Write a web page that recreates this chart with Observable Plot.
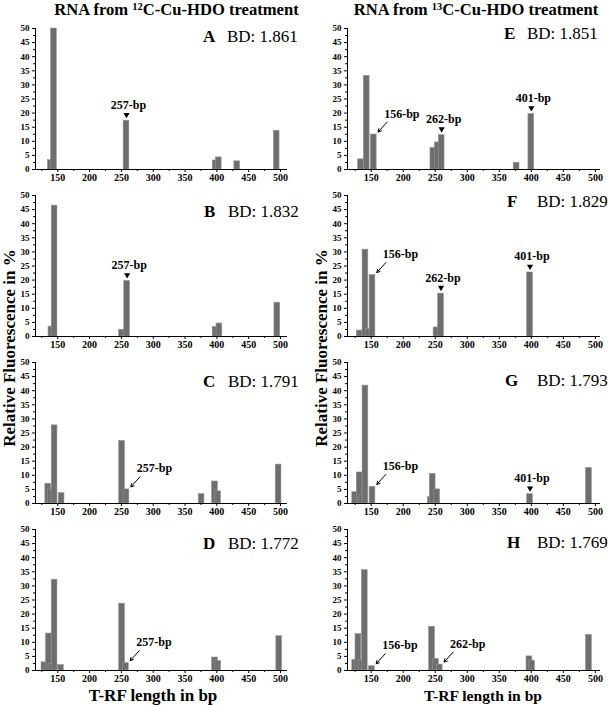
<!DOCTYPE html>
<html><head><meta charset="utf-8">
<script src="https://cdn.jsdelivr.net/npm/d3@7"></script>
<script src="https://cdn.jsdelivr.net/npm/@observablehq/plot@0.6"></script>
<style>
html,body{margin:0;padding:0;background:#fff;}
#chart{position:relative;width:608px;height:705px;font-family:"Liberation Serif","Times New Roman",serif;overflow:hidden;background:#fff;}
#chart > svg{position:absolute;}
</style></head><body><div id="chart"></div>
<script>
// ---------------- data ----------------
const panelLetters = ["A","B","C","D","E","F","G","H"];
const bdValues = ["1.861","1.832","1.791","1.772","1.851","1.829","1.793","1.769"];
const isotopes = ["12","13"];
const xTicks = [150,200,250,300,350,400,450,500];
const xMinorTicks = [125,175,225,275,325,375,425,475];
const yTicks = [0,5,10,15,20,25,30,35,40,45,50];
const yMinorTicks = [2.5,7.5,12.5,17.5,22.5,27.5,32.5,37.5,42.5,47.5];

// T-RF length (bp) and relative fluorescence (%) per panel
const bpA = [139,144,258,398,403,432,494];
const pctA = [3.3,50,17.3,3.2,4.3,2.9,13.7];
const bpB = [140,145,251,259,398,404,495];
const pctB = [3.5,46.4,2.4,19.7,3.4,4.6,12.0];
const bpC = [135,139,145,156,251,258,376,397,402,497];
const pctC = [7.0,4.9,27.7,3.7,22.2,5.0,3.3,7.8,4.3,13.8];
const bpD = [129,136,140,145,155,251,257,397,402,498];
const pctD = [2.9,13.1,2.3,32.2,1.9,23.7,2.6,4.6,3.4,12.2];
const bpE = [134,143,154,247,254,260,377,400];
const pctE = [3.6,33.2,12.4,7.7,9.6,12.2,2.4,19.7];
const bpF = [132,141,146,152,252,259,398];
const pctF = [2.1,30.8,2.6,21.8,3.2,15.2,22.7];
const bpG = [125,132,136,141,152,243,246,253,398,490];
const pctG = [4.0,11.0,2.9,41.8,5.9,2.3,10.5,5.0,3.3,12.6];
const bpH = [125,130,135,140,151,245,251,257,397,401,490];
const pctH = [3.8,12.9,3.8,35.6,1.5,15.5,4.1,2.1,5.0,3.5,12.6];

// annotations: panel, label, bar (bp) pointed at, marker kind
const annPanel = ["A","B","C","D","E","E","E","F","F","F","G","G","H","H"];
const annText  = ["257-bp","257-bp","257-bp","257-bp","156-bp","262-bp","401-bp","156-bp","262-bp","401-bp","156-bp","401-bp","156-bp","262-bp"];
const annBar   = [258,259,258,257,154,260,400,152,259,398,152,398,151,257];
const annKind  = ["tri","tri","arrow","arrow","arrow","tri","tri","arrow","tri","tri","arrow","tri","arrow","arrow"];

// ---------------- layout ----------------
const panelBp = [bpA,bpB,bpC,bpD,bpE,bpF,bpG,bpH];
const panelPct = [pctA,pctB,pctC,pctD,pctE,pctF,pctG,pctH];
const colLeft = [0,300], colWidth = [300,308], marginL = [35,47], marginR = [13,8];
const xDomain = [[115,511],[113,508]];
const rowTop = [20,187,354,521];
const MT = 8, PH = 141, MB = 18, H = MT + PH + MB;
const BW = 9; // bar width in bp
const letterX = [203,204,203,203,504,507,505,507];
const bdX = [227,228,228,228,527,537,537,537];
const labelBase = [42,217,387,549,39,207,386,548];

const chart = document.getElementById("chart");

function drawPanel(p) {
  const col = p < 4 ? 0 : 1, row = p % 4;
  const [xmin, xmax] = xDomain[col];
  const width = colWidth[col];
  const kx = (width - marginL[col] - marginR[col]) / (xmax - xmin);
  const ky = PH / 50;
  const bars = panelBp[p].map((bp, i) => ({bp, pct: panelPct[p][i]}));
  const anns = [];
  annPanel.forEach((q, i) => {
    if (q !== panelLetters[p]) return;
    const bar = bars.find(b => b.bp === annBar[i]);
    anns.push({text: annText[i], kind: annKind[i], bp: bar.bp, pct: bar.pct});
  });
  const tri = anns.filter(a => a.kind === "tri");
  const arr = anns.filter(a => a.kind === "arrow").map(a => {
    const tx = a.bp + BW / 2 + 1.5 / kx, ty = a.pct + 2.5 / ky;
    return {...a, tx, ty, sx: tx + 9 / kx, sy: ty + 10 / ky};
  });
  const svg = Plot.plot({
    width, height: H,
    marginLeft: marginL[col], marginRight: marginR[col], marginTop: MT, marginBottom: MB,
    style: {fontFamily: "Liberation Serif, serif", background: "transparent", overflow: "visible"},
    x: {domain: [xmin, xmax], label: null},
    y: {domain: [0, 50], label: null},
    marks: [
      Plot.rect(bars, {x1: d => d.bp - BW / 2, x2: d => d.bp + BW / 2, y1: 0, y2: "pct",
        fill: "#6e6e6e", stroke: "#939393", strokeWidth: 0.6}),
      Plot.ruleY([0], {stroke: "#000", strokeWidth: 1}),
      Plot.ruleX([xmin], {y1: 0, y2: 50, stroke: "#000", strokeWidth: 1}),
      Plot.axisY(yTicks, {tickSize: 3, tickPadding: 3, fontSize: 9, fontWeight: "bold", label: null}),
      Plot.axisY(yMinorTicks, {tickSize: 2, tickFormat: () => "", label: null}),
      Plot.axisX(xTicks, {tickSize: 3, tickPadding: 1, fontSize: 10, fontWeight: "bold", label: null, tickFormat: d => String(d)}),
      Plot.axisX(xMinorTicks, {tickSize: 2, tickFormat: () => "", label: null}),
      Plot.dot(tri, {x: "bp", y: "pct", symbol: "triangle", rotate: 180, r: 2.3, fill: "#000", stroke: null, dy: -6}),
      Plot.text(tri, {x: "bp", y: "pct", text: "text", dy: -12, dx: 2, lineAnchor: "bottom",
        fontSize: 12, fontWeight: "bold", fill: "#000"}),
      Plot.arrow(arr, {x1: "sx", y1: "sy", x2: "tx", y2: "ty", stroke: "#000", strokeWidth: 1, headLength: 5}),
      Plot.text(arr, {x: "sx", y: "sy", text: "text", dx: -3, dy: -4.5, textAnchor: "start", lineAnchor: "bottom",
        fontSize: 12, fontWeight: "bold", fill: "#000"})
    ]
  });
  svg.style.left = colLeft[col] + "px";
  svg.style.top = rowTop[row] + "px";
  chart.appendChild(svg);
}

for (let p = 0; p < 8; p++) drawPanel(p);

// overlay with titles and labels
const ov = d3.select(chart).append("svg")
  .attr("width", 608).attr("height", 705)
  .style("left", "0px").style("top", "0px").style("pointer-events", "none")
  .attr("font-family", "Liberation Serif, serif");

const titleX = [176.5, 476];
isotopes.forEach((iso, c) => {
  const t = ov.append("text").attr("x", titleX[c]).attr("y", 15)
    .attr("text-anchor", "middle").attr("font-size", 16.6).attr("font-weight", "bold");
  t.append("tspan").text("RNA from ");
  t.append("tspan").attr("font-size", 10.5).attr("dy", -5).text(iso);
  t.append("tspan").attr("dy", 5).text("C-Cu-HDO treatment");
});

const yTitleX = [15, 327];
yTitleX.forEach(x => {
  ov.append("text").attr("transform", `translate(${x},348) rotate(-90)`)
    .attr("text-anchor", "middle").attr("font-size", 17).attr("font-weight", "bold")
    .text("Relative Fluorescence in %");
});

const xTitle = [[153, 17], [483, 15.6]];
xTitle.forEach(([x, fs]) => {
  ov.append("text").attr("x", x).attr("y", 700.5).attr("text-anchor", "middle")
    .attr("font-size", fs).attr("font-weight", "bold").text("T-RF length in bp");
});

panelLetters.forEach((L, p) => {
  ov.append("text").attr("x", letterX[p]).attr("y", labelBase[p])
    .attr("font-size", 17).attr("font-weight", "bold").text(L);
  ov.append("text").attr("x", bdX[p]).attr("y", labelBase[p])
    .attr("font-size", 17).text("BD: " + bdValues[p]);
});
</script>
</body></html>
